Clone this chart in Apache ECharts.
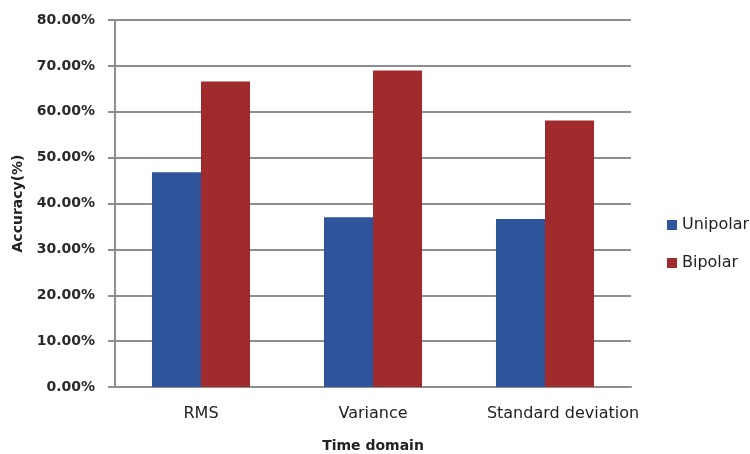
<!DOCTYPE html>
<html>
<head>
<meta charset="utf-8">
<script src="https://cdn.jsdelivr.net/npm/echarts@6/dist/echarts.min.js"></script>
<style>
  html, body { margin: 0; padding: 0; background: #ffffff; }
  #chart { width: 750px; height: 454px; }
</style>
</head>
<body>
<div id="chart"></div>
<script>
// Classification accuracy (%) per time-domain feature
const categories = ['RMS', 'Variance', 'Standard deviation'];
const unipolar = [46.8, 37.0, 36.6];
const bipolar = [66.6, 69.0, 58.1];
const yTicks = { min: 0, max: 80, interval: 10 };

const chart = echarts.init(document.getElementById('chart'), null, { renderer: 'canvas' });

const gridColor = '#8e8e8e';
const labelFont = '"DejaVu Sans", "Noto Sans", sans-serif';

chart.setOption({
  animation: false,
  backgroundColor: '#ffffff',
  grid: {
    left: 115, right: 119, top: 20, bottom: 67,
    containLabel: false,
    outerBoundsMode: 'none'
  },
  legend: {
    orient: 'vertical',
    left: 662,
    top: 211,
    icon: 'rect',
    itemWidth: 10,
    itemHeight: 10,
    itemGap: 20,
    textStyle: { fontFamily: labelFont, fontSize: 16, color: '#222', lineHeight: 18 },
    data: ['Unipolar', 'Bipolar']
  },
  xAxis: {
    type: 'category',
    data: categories,
    name: 'Time domain',
    nameLocation: 'middle',
    nameGap: 52,
    nameTextStyle: { fontFamily: labelFont, fontSize: 14, fontWeight: 'bold', color: '#222' },
    axisLine: { show: true, lineStyle: { color: gridColor, width: 2 } },
    axisTick: { show: false },
    axisLabel: {
      interval: 0,
      fontFamily: labelFont, fontSize: 16, color: '#222', margin: 19,
      // the long last label sits a little to the right of its group
      formatter: v => v === 'Standard deviation' ? '{wide|' + v + '}' : v,
      rich: {
        wide: { fontFamily: labelFont, fontSize: 16, color: '#222', padding: [0, 0, 0, 36] }
      }
    }
  },
  yAxis: {
    type: 'value',
    min: yTicks.min,
    max: yTicks.max,
    interval: yTicks.interval,
    name: 'Accuracy(%)',
    nameLocation: 'middle',
    nameGap: 88,
    nameRotate: 90,
    nameTextStyle: { fontFamily: labelFont, fontSize: 14, fontWeight: 'bold', color: '#222' },
    axisLine: { show: true, lineStyle: { color: gridColor, width: 2 } },
    axisTick: { show: true, inside: false, length: 7, lineStyle: { color: gridColor, width: 2 } },
    axisLabel: {
      fontFamily: labelFont, fontSize: 14, fontWeight: 'bold', color: '#2a2a2a', margin: 20,
      formatter: v => v.toFixed(2) + '%'
    },
    splitLine: { show: true, lineStyle: { color: gridColor, width: 2 } }
  },
  series: [
    {
      name: 'Unipolar',
      type: 'bar',
      data: unipolar,
      barGap: '0%',
      barCategoryGap: '43%',
      itemStyle: { color: '#2e559c' }
    },
    {
      name: 'Bipolar',
      type: 'bar',
      data: bipolar,
      barGap: '0%',
      barCategoryGap: '43%',
      itemStyle: { color: '#a02b2c' }
    }
  ]
});
</script>
</body>
</html>
